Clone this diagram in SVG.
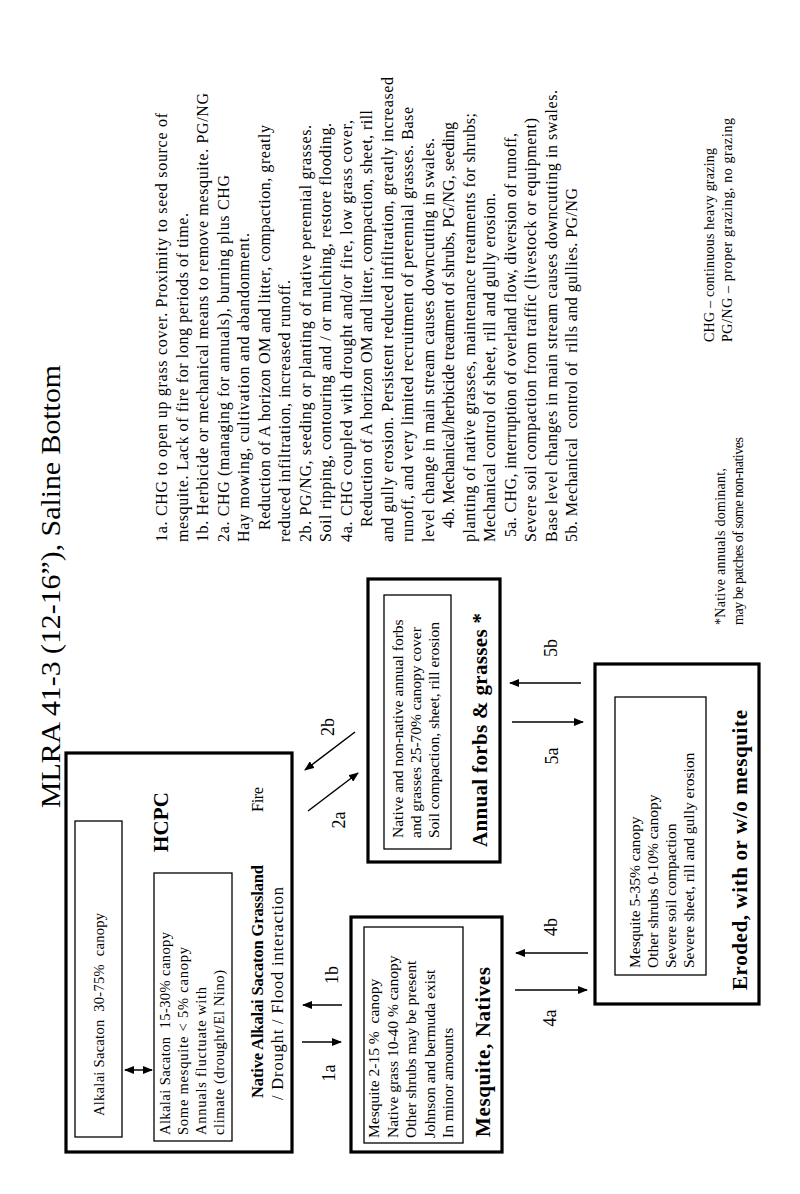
<svg xmlns="http://www.w3.org/2000/svg" width="800" height="1194" viewBox="0 0 800 1194">
<style>
text{font-family:"Liberation Serif","Times New Roman",serif;fill:#000;white-space:pre}
.ti{font-size:28px}
.nt{font-size:16px}
.bx{font-size:14.5px}
.bx2{font-size:15.5px}
.hd{font-size:21px;font-weight:bold}
.lb{font-size:18px;text-anchor:middle}
.sm{font-size:14px}
.outer{fill:none;stroke:#000;stroke-width:3.2}
.inner{fill:none;stroke:#000;stroke-width:1.3}
.ar{fill:none;stroke:#000;stroke-width:1.5}
</style>
<defs>
<marker id="ah" viewBox="0 0 10 8" refX="9" refY="4" markerWidth="10" markerHeight="8" markerUnits="userSpaceOnUse" orient="auto-start-reverse">
<path d="M0,0 L10,4 L0,8 Z" fill="#000"/>
</marker>
</defs>
<rect x="0" y="0" width="800" height="1194" fill="#fff"/>

<text class="ti" transform="translate(60,808) rotate(-90)" textLength="443" lengthAdjust="spacingAndGlyphs">MLRA 41-3 (12-16”), Saline Bottom</text>

<g id="notes">
<text class="nt" transform="translate(167,542) rotate(-90)">
<tspan x="0" y="0" textLength="429">1a. CHG to open up grass cover. Proximity to seed source of</tspan>
<tspan x="0" y="20.5" textLength="329">mesquite. Lack of fire for long periods of time.</tspan>
<tspan x="0" y="41" textLength="449">1b. Herbicide or mechanical means to remove mesquite. PG/NG</tspan>
<tspan x="0" y="61.5" textLength="367">2a. CHG (managing for annuals), burning plus CHG</tspan>
<tspan x="0" y="82" textLength="309">Hay mowing, cultivation and abandonment.</tspan>
<tspan x="12" y="102.5" textLength="405">Reduction of A horizon OM and litter, compaction, greatly</tspan>
<tspan x="0" y="123" textLength="262">reduced infiltration, increased runoff.</tspan>
<tspan x="0" y="143.5" textLength="417">2b. PG/NG, seeding or planting of native perennial grasses.</tspan>
<tspan x="0" y="164" textLength="419">Soil ripping, contouring and / or mulching, restore flooding.</tspan>
<tspan x="0" y="184.5" textLength="422">4a. CHG coupled with drought and/or fire, low grass cover,</tspan>
<tspan x="15" y="205" textLength="417">Reduction of A horizon OM and litter, compaction, sheet, rill</tspan>
<tspan x="0" y="225.5" textLength="465">and gully erosion. Persistent reduced infiltration, greatly increased</tspan>
<tspan x="0" y="246" textLength="435">runoff, and very limited recruitment of perennial grasses. Base</tspan>
<tspan x="0" y="266.5" textLength="404">level change in main stream causes downcutting in swales.</tspan>
<tspan x="14" y="287" textLength="406">4b. Mechanical/herbicide treatment of shrubs, PG/NG, seeding</tspan>
<tspan x="0" y="307.5" textLength="429">planting of native grasses, maintenance treatments for shrubs;</tspan>
<tspan x="0" y="328" textLength="349">Mechanical control of sheet, rill and gully erosion.</tspan>
<tspan x="5" y="348.5" textLength="404">5a. CHG, interruption of overland flow, diversion of runoff,</tspan>
<tspan x="0" y="369" textLength="424">Severe soil compaction from traffic (livestock or equipment)</tspan>
<tspan x="0" y="389.5" textLength="452">Base level changes in main stream causes downcutting in swales.</tspan>
<tspan x="0" y="410" textLength="354">5b. Mechanical  control of  rills and gullies. PG/NG</tspan>
</text>
</g>

<g id="legend">
<text class="sm" transform="translate(725,625) rotate(-90)" textLength="157">*Native annuals dominant,</text>
<text class="sm" transform="translate(743,625) rotate(-90)" textLength="188">may be patches of some non-natives</text>
<text class="sm" transform="translate(714,342) rotate(-90)" textLength="194">CHG – continuous heavy grazing</text>
<text class="sm" transform="translate(732,342) rotate(-90)" textLength="224">PG/NG – proper grazing, no grazing</text>
</g>

<g id="hcpc">
<rect class="outer" x="66" y="753" width="226" height="399"/>
<rect class="inner" x="75" y="821" width="47" height="316"/>
<text class="bx" transform="translate(104,1116) rotate(-90)" textLength="203">Alkalai Sacaton  30-75%  canopy</text>
<rect class="inner" x="154" y="873" width="78" height="268"/>
<text class="bx" transform="translate(170,1135) rotate(-90)">
<tspan x="0" y="0" textLength="203">Alkalai Sacaton  15-30% canopy</tspan>
<tspan x="0" y="18" textLength="188">Some mesquite &lt; 5% canopy</tspan>
<tspan x="0" y="36" textLength="148">Annuals fluctuate with</tspan>
<tspan x="0" y="54" textLength="165">climate (drought/El Nino)</tspan>
</text>
<text class="hd" transform="translate(168,852) rotate(-90)" textLength="60">HCPC</text>
<text transform="translate(263,1098) rotate(-90)" style="font-size:16.5px;font-weight:bold" textLength="233">Native Alkalai Sacaton Grassland</text>
<text transform="translate(263,812) rotate(-90)" style="font-size:16.5px" textLength="25">Fire</text>
<text transform="translate(283,1100) rotate(-90)" style="font-size:16.5px" textLength="213">/ Drought / Flood interaction</text>
</g>

<g id="mesquite">
<rect class="outer" x="351" y="917" width="151" height="235"/>
<rect class="inner" x="364" y="927" width="99" height="216"/>
<text class="bx2" transform="translate(379,1138) rotate(-90)">
<tspan x="0" y="0">Mesquite 2-15 %  canopy</tspan>
<tspan x="0" y="18.5">Native grass 10-40 % canopy</tspan>
<tspan x="0" y="37">Other shrubs may be present</tspan>
<tspan x="0" y="55.5">Johnson and bermuda exist</tspan>
<tspan x="0" y="74">In minor amounts</tspan>
</text>
<text class="hd" transform="translate(490,1137) rotate(-90)" textLength="170">Mesquite, Natives</text>
</g>

<g id="annual">
<rect class="outer" x="368" y="579" width="132" height="283"/>
<rect class="inner" x="384" y="595" width="67" height="254"/>
<text class="bx2" transform="translate(403,838) rotate(-90)">
<tspan x="0" y="0">Native and non-native annual forbs</tspan>
<tspan x="0" y="18">and grasses 25-70% canopy cover</tspan>
<tspan x="0" y="36">Soil compaction, sheet, rill erosion</tspan>
</text>
<text class="hd" transform="translate(487,847) rotate(-90)" textLength="234">Annual forbs &amp; grasses *</text>
</g>

<g id="eroded">
<rect class="outer" x="595" y="664" width="164" height="340"/>
<rect class="inner" x="615" y="697" width="91" height="278"/>
<text class="bx2" transform="translate(640,968) rotate(-90)">
<tspan x="0" y="0">Mesquite 5-35% canopy</tspan>
<tspan x="0" y="18">Other shrubs 0-10% canopy</tspan>
<tspan x="0" y="36">Severe soil compaction</tspan>
<tspan x="0" y="54">Severe sheet, rill and gully erosion</tspan>
</text>
<text class="hd" transform="translate(747,990) rotate(-90)" textLength="280">Eroded, with or w/o mesquite</text>
</g>

<g id="connectors">
<line class="ar" x1="125" y1="1070" x2="152" y2="1070" marker-start="url(#ah)" marker-end="url(#ah)"/>
<line class="ar" x1="302" y1="1042" x2="341" y2="1042" marker-end="url(#ah)"/>
<line class="ar" x1="342" y1="1005" x2="303" y2="1005" marker-end="url(#ah)"/>
<line class="ar" x1="308" y1="811" x2="358" y2="773" marker-end="url(#ah)"/>
<line class="ar" x1="355" y1="732" x2="305" y2="770" marker-end="url(#ah)"/>
<line class="ar" x1="515" y1="990" x2="587" y2="990" marker-end="url(#ah)"/>
<line class="ar" x1="588" y1="953" x2="516" y2="953" marker-end="url(#ah)"/>
<line class="ar" x1="512" y1="722" x2="583" y2="722" marker-end="url(#ah)"/>
<line class="ar" x1="581" y1="683" x2="510" y2="683" marker-end="url(#ah)"/>
<text class="lb" transform="translate(335,1073) rotate(-90)">1a</text>
<text class="lb" transform="translate(338,975) rotate(-90)">1b</text>
<text class="lb" transform="translate(345,820) rotate(-90)">2a</text>
<text class="lb" transform="translate(334,727) rotate(-90)">2b</text>
<text class="lb" transform="translate(556,1018) rotate(-90)">4a</text>
<text class="lb" transform="translate(557,927) rotate(-90)">4b</text>
<text class="lb" transform="translate(558,756) rotate(-90)">5a</text>
<text class="lb" transform="translate(557,648) rotate(-90)">5b</text>
</g>
</svg>
